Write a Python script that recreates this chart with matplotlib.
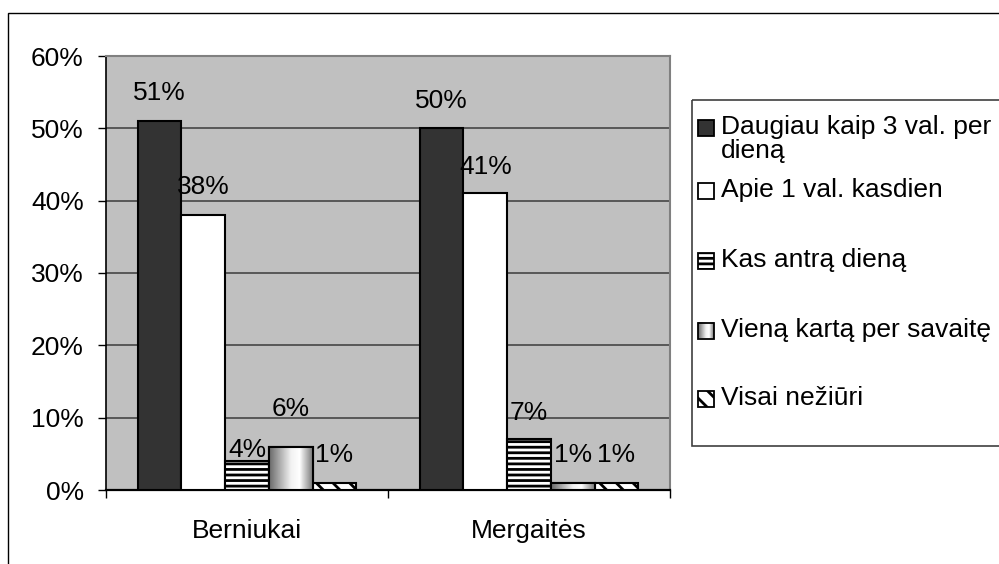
import numpy as np
import matplotlib
matplotlib.use('Agg')
from matplotlib import pyplot as plt
from matplotlib.colors import LinearSegmentedColormap
from matplotlib.patches import Rectangle

plt.rcParams['font.family'] = ['Liberation Sans', 'DejaVu Sans']
plt.rcParams['hatch.linewidth'] = 2.0

groups = ['Berniukai', 'Mergaitės']
series = ['Daugiau kaip 3 val. per\ndieną', 'Apie 1 val. kasdien', 'Kas antrą dieną',
          'Vieną kartą per savaitę', 'Visai nežiūri']
values = [[51, 50], [38, 41], [4, 7], [6, 1], [1, 1]]
yticks = [0, 10, 20, 30, 40, 50, 60]

# bar looks (index 3 gets a gradient drawn on top)
faces = ['#333333', 'white', 'white', 'white', 'white']
hatches = [None, None, '---', None, '\\\\']
# label offset above bar top, in points (Excel nudged some of them)
label_off = [[20, 20], [20, 19], [8, 19], [27, 20], [20, 20]]

FS = 19

cyl = LinearSegmentedColormap.from_list(
    'cyl', [(0, '#6a6a6a'), (0.5, '#f2f2f2'), (0.7, '#ffffff'), (1, '#7a7a7a')])
grad = np.linspace(0, 1, 64).reshape(1, -1)

W, H = 999, 564
fig = plt.figure(figsize=(W / 100, H / 100), dpi=100)
ax = fig.add_axes([106 / W, (H - 490) / H, 564 / W, 434 / H])

ax.set_facecolor('#c0c0c0')
ax.set_axisbelow(True)
ax.yaxis.grid(True, color='#505050', lw=1.3)

w = 0.155
centers = np.array([0.5, 1.5])
for i, vals in enumerate(values):
    xs = centers + (i - 2) * w
    bars = ax.bar(xs, vals, width=w, color=faces[i], edgecolor='black', lw=1.5,
                  hatch=hatches[i], zorder=3)
    if i == 3:
        for b in bars:
            x0 = b.get_x()
            ax.imshow(grad, extent=[x0, x0 + w, 0, b.get_height()], aspect='auto',
                      cmap=cyl, zorder=3.5)
            ax.bar(b.get_x() + w / 2, b.get_height(), width=w, color='none',
                   edgecolor='black', lw=1.5, zorder=4)
    for j, b in enumerate(bars):
        ax.annotate(f'{vals[j]}%', (b.get_x() + w / 2, b.get_height()),
                    xytext=(0, label_off[i][j]), textcoords='offset points',
                    ha='center', va='center', fontsize=FS, zorder=5)

ax.set_xlim(0, 2)
ax.set_ylim(0, 60)
ax.set_yticks(yticks)
ax.set_yticklabels([f'{v}%' for v in yticks], fontsize=FS)
ax.tick_params(axis='y', direction='out', length=6, width=1, pad=10)
ax.set_xticks(centers)
ax.set_xticklabels(groups, fontsize=FS)
ax.tick_params(axis='x', which='major', length=0, pad=21)
ax.set_xticks([0, 1, 2], minor=True)
ax.tick_params(axis='x', which='minor', direction='out', length=6, width=1)

for s in ['top', 'right']:
    ax.spines[s].set_color('#808080')
    ax.spines[s].set_linewidth(1.5)
ax.spines['left'].set_linewidth(1.2)
ax.spines['bottom'].set_linewidth(1.6)

# outer chart frame (runs off the right and bottom of the picture)
fig.add_artist(Rectangle((8 / W, -0.2), 2, (H - 13) / H + 0.2, transform=fig.transFigure,
                         fill=False, edgecolor='black', lw=1))

# legend box, drawn in pixel coordinates
lg = fig.add_axes([691 / W, (H - 446) / H, (W - 691) / W, 347 / H])
lg.axis('off')
lg.add_patch(Rectangle((691.5, 99.5), 400, 346, fill=False, edgecolor='#404040', lw=1.2,
                       clip_on=False))
mark_y = [127, 190, 260, 330, 398]
text_y = [139, 190, 260, 330, 398]
for i, lab in enumerate(series):
    y0 = mark_y[i] - 7.5
    if i == 3:
        lg.imshow(grad, extent=[698, 714, y0 + 16, y0], aspect='auto', cmap=cyl, zorder=2)
        lg.add_patch(Rectangle((698, y0), 16, 16, facecolor='none', edgecolor='black',
                               lw=1.3, zorder=3))
    else:
        lg.add_patch(Rectangle((698, y0), 16, 16, facecolor=faces[i], edgecolor='black',
                               hatch=hatches[i], lw=1.3, zorder=3))
    lg.text(721, text_y[i], lab, ha='left', va='center', fontsize=FS, linespacing=1.0)
lg.set_xlim(691, W)
lg.set_ylim(446, 99)

fig.savefig('out.png', dpi=100)
